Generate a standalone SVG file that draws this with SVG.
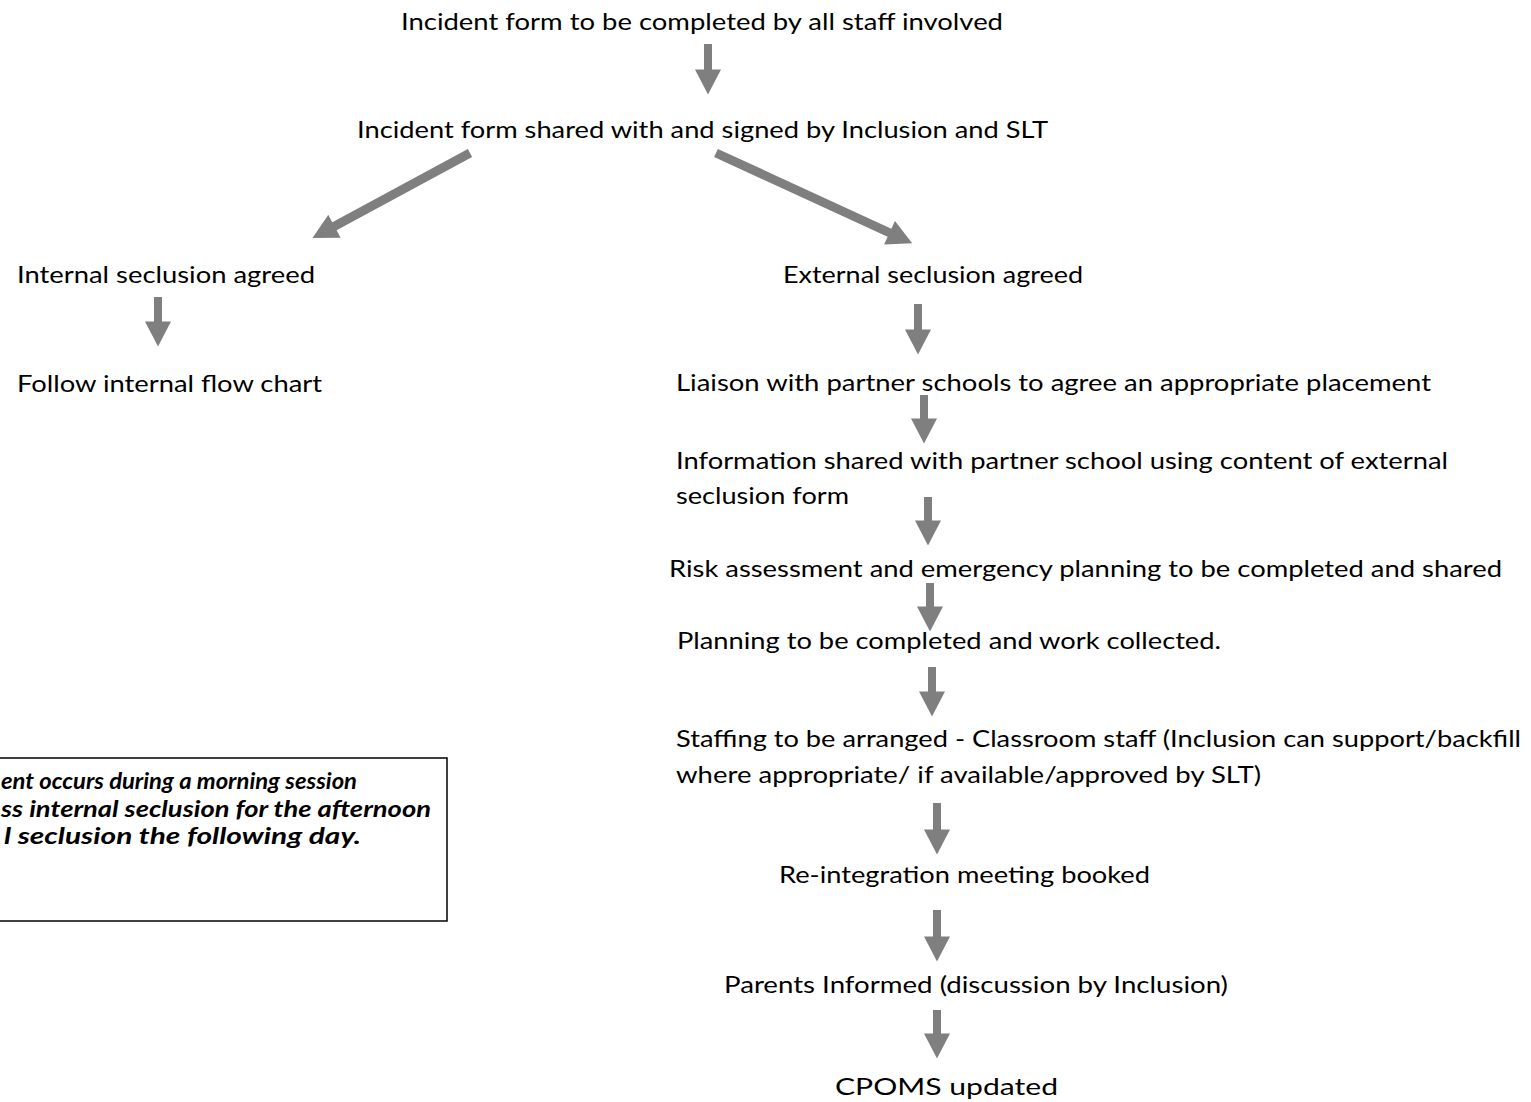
<svg xmlns="http://www.w3.org/2000/svg" width="1531" height="1102" viewBox="0 0 1531 1102">
<style>
.t{font-family:Lato,"Open Sans","Liberation Sans",sans-serif;font-size:24px;fill:#000}
.n{font-family:Lato,"Open Sans","Liberation Sans",sans-serif;font-size:23px;font-weight:bold;font-style:italic;fill:#000}
.a{stroke:#7f7f7f;stroke-width:8;fill:none;marker-end:url(#head)}
.d{stroke:#7f7f7f;stroke-width:9;fill:none;marker-end:url(#head)}
</style>
<defs>
<marker id="head" markerUnits="userSpaceOnUse" markerWidth="26" markerHeight="26" viewBox="0 0 24 25" refX="0.5" refY="12.5" orient="auto">
<path d="M0,0 L24,12.5 L0,25 Z" fill="#7f7f7f"/>
</marker>
</defs>
<rect width="1531" height="1102" fill="#fff"/>
<g id="connectors">
<line class="a" x1="708" y1="44" x2="708" y2="70"/>
<line class="d" x1="470" y1="153" x2="334" y2="226.5"/>
<line class="d" x1="716" y1="153" x2="890" y2="233"/>
<line class="a" x1="158" y1="297" x2="158" y2="322"/>
<line class="a" x1="918" y1="304" x2="918" y2="330"/>
<line class="a" x1="924" y1="395" x2="924" y2="419"/>
<line class="a" x1="928" y1="497" x2="928" y2="521"/>
<line class="a" x1="930" y1="583" x2="930" y2="607"/>
<line class="a" x1="932" y1="667" x2="932" y2="692"/>
<line class="a" x1="937" y1="803" x2="937" y2="830"/>
<line class="a" x1="937" y1="910" x2="937" y2="937"/>
<line class="a" x1="937" y1="1010" x2="937" y2="1034"/>
</g>
<g id="n1"><text class="t" x="401" y="30" textLength="602" lengthAdjust="spacingAndGlyphs">Incident form to be completed by all staff involved</text></g>
<g id="n2"><text class="t" x="357" y="138" textLength="691" lengthAdjust="spacingAndGlyphs">Incident form shared with and signed by Inclusion and SLT</text></g>
<g id="n3"><text class="t" x="17" y="283" textLength="298" lengthAdjust="spacingAndGlyphs">Internal seclusion agreed</text></g>
<g id="n4"><text class="t" x="783" y="283" textLength="300" lengthAdjust="spacingAndGlyphs">External seclusion agreed</text></g>
<g id="n5"><text class="t" x="17" y="392" textLength="305" lengthAdjust="spacingAndGlyphs">Follow internal flow chart</text></g>
<g id="n6"><text class="t" x="676" y="391" textLength="755" lengthAdjust="spacingAndGlyphs">Liaison with partner schools to agree an appropriate placement</text></g>
<g id="n7"><text class="t" x="676" y="469" textLength="772" lengthAdjust="spacingAndGlyphs">Information shared with partner school using content of external</text><text class="t" x="676" y="504" textLength="173" lengthAdjust="spacingAndGlyphs">seclusion form</text></g>
<g id="n8"><text class="t" x="669" y="577" textLength="833" lengthAdjust="spacingAndGlyphs">Risk assessment and emergency planning to be completed and shared</text></g>
<g id="n9"><text class="t" x="677" y="649" textLength="544" lengthAdjust="spacingAndGlyphs">Planning to be completed and work collected.</text></g>
<g id="n10"><text class="t" x="676" y="747" textLength="845" lengthAdjust="spacingAndGlyphs">Staffing to be arranged - Classroom staff (Inclusion can support/backfill</text><text class="t" x="676" y="783" textLength="585" lengthAdjust="spacingAndGlyphs">where appropriate/ if available/approved by SLT)</text></g>
<g id="n11"><text class="t" x="779" y="883" textLength="371" lengthAdjust="spacingAndGlyphs">Re-integration meeting booked</text></g>
<g id="n12"><text class="t" x="724" y="993" textLength="504" lengthAdjust="spacingAndGlyphs">Parents Informed (discussion by Inclusion)</text></g>
<g id="n13"><text class="t" x="835" y="1095" textLength="223" lengthAdjust="spacingAndGlyphs">CPOMS updated</text></g>
<g id="note">
<rect x="-2" y="758" width="449" height="163" fill="none" stroke="#000" stroke-width="1.5"/>
<text class="n" x="1" y="789" textLength="356" lengthAdjust="spacingAndGlyphs">ent occurs during a morning session</text>
<text class="n" x="1" y="817" textLength="430" lengthAdjust="spacingAndGlyphs">ss internal seclusion for the afternoon</text>
<text class="n" x="4" y="844" textLength="357" lengthAdjust="spacingAndGlyphs">l seclusion the following day.</text>
</g>
</svg>
